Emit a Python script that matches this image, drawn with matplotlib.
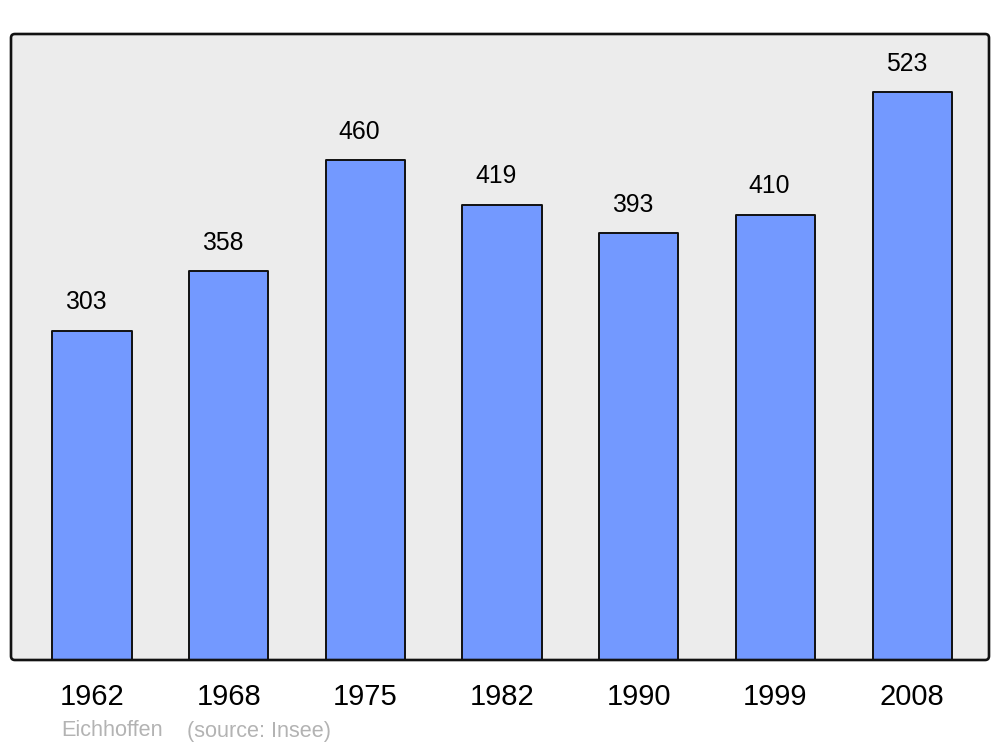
import matplotlib
matplotlib.use("Agg")
import matplotlib.pyplot as plt
from matplotlib.patches import FancyBboxPatch

years = ["1962", "1968", "1975", "1982", "1990", "1999", "2008"]
population = [303, 358, 460, 419, 393, 410, 523]
town = "Eichhoffen"
source = "(source: Insee)"

plt.rcParams["font.family"] = ["Liberation Sans", "DejaVu Sans"]

fig = plt.figure(figsize=(10, 7.47), dpi=100)
fig.patch.set_facecolor("white")
ax = fig.add_axes([0.011, 87 / 747, 0.978, 626 / 747])
ax.set_facecolor("none")
for s in ax.spines.values():
    s.set_visible(False)

# rounded background + frame
bg = FancyBboxPatch((0, 0), 1, 1, boxstyle="round,pad=0,rounding_size=0.004",
                    transform=ax.transAxes, facecolor="#ececec", edgecolor="none",
                    zorder=0, clip_on=False, mutation_aspect=978 / 626)
ax.add_patch(bg)
frame = FancyBboxPatch((0, 0), 1, 1, boxstyle="round,pad=0,rounding_size=0.004",
                       transform=ax.transAxes, facecolor="none", edgecolor="#111111",
                       linewidth=1.9, zorder=5, clip_on=False, mutation_aspect=978 / 626)
ax.add_patch(frame)

x = range(len(years))
bars = ax.bar(x, population, width=0.58, color="#7399ff", edgecolor="#111111",
              linewidth=1.4, zorder=2)
for b in bars:
    b.set_joinstyle("round")

for xi, v in zip(x, population):
    ax.annotate(str(v), (xi, v), xytext=(-4.3, 20.5), textcoords="offset points",
                ha="center", va="center", fontsize=17.8, color="black")

ax.set_xlim(-0.593, 6.562)
ax.set_ylim(0, 576.4)
ax.set_yticks([])
ax.set_xticks(list(x), years)
ax.tick_params(axis="x", length=0, pad=16.5, labelsize=21)

fig.text(0.061, 1 - 731 / 747, town, color="#b3b3b3", fontsize=15.6, va="center", ha="left")
fig.text(0.187, 1 - 731 / 747, source, color="#b3b3b3", fontsize=15.6, va="center", ha="left")

fig.savefig("out.png", dpi=100)
